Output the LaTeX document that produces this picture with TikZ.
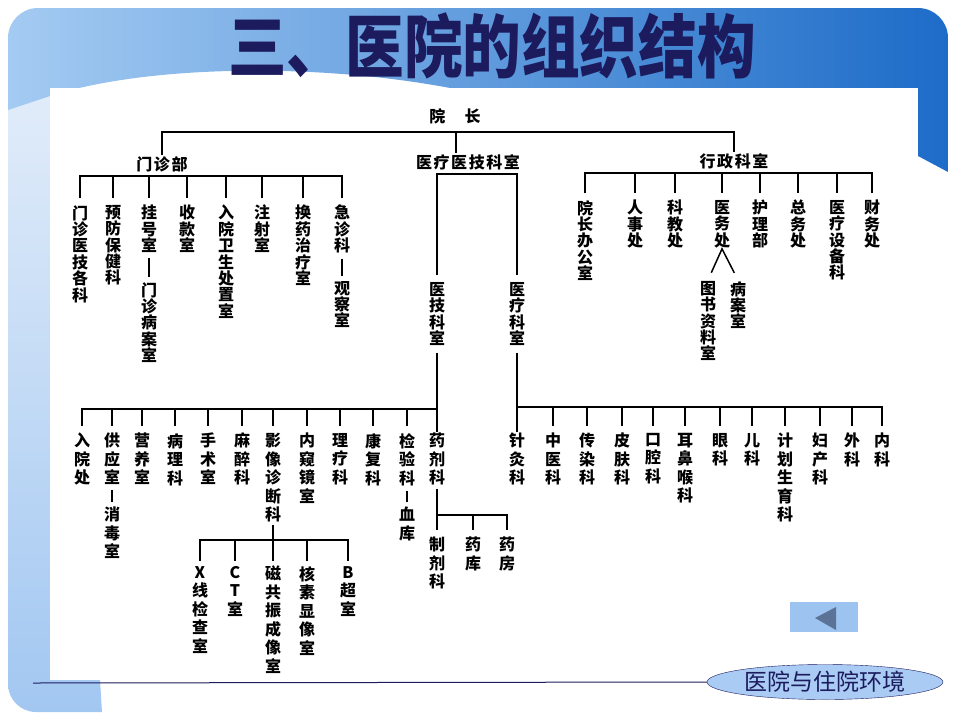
\documentclass[tikz,border=0pt]{standalone}
\usepackage{fontspec}
\setmainfont{Noto Sans CJK SC}
\newfontfamily\cjk{Noto Sans CJK SC}
\newfontfamily\hcjk[LetterSpace=10]{Noto Sans CJK SC}
\usetikzlibrary{shapes.geometric}

\definecolor{navy}{HTML}{1B1B5E}
\definecolor{bannerL}{HTML}{A4CBF2}
\definecolor{bannerR}{HTML}{1D6CC8}
\definecolor{stripT}{HTML}{E4EEFA}
\definecolor{stripB}{HTML}{A2C7F1}
\definecolor{btnblue}{HTML}{9DC3F0}
\definecolor{btnarrow}{HTML}{5B7396}
\definecolor{ovalfill}{HTML}{AACBF3}

\tikzset{
  link/.style={draw=black, line width=1.5pt},
  bar/.style={link, shorten <=6pt, shorten >=6pt},
  drop/.style={link, shorten >=6pt},
  htxt/.style={font=\hcjk\bfseries\fontsize{16}{18}\selectfont, inner sep=1pt},
  vtop/.style={font=\cjk\bfseries\fontsize{16}{16.4}\selectfont, align=center, anchor=north, inner sep=1pt},
  vbot/.style={vtop, font=\cjk\bfseries\fontsize{16}{18.5}\selectfont},
}

\begin{document}
\begin{tikzpicture}[x=1pt,y=-1pt]
\useasboundingbox (0,0) rectangle (960,720);

% slide background
\shade[top color=stripT, bottom color=stripB] (8,60) -- (8,684)
  arc[start angle=180,end angle=90,radius=28] -- (102,712) -- (62,60) -- cycle;
\shade[left color=bannerL, right color=bannerR] (8,110) -- (8,38)
  arc[start angle=180,end angle=270,radius=30] -- (918,8)
  arc[start angle=270,end angle=360,radius=30] -- (948,172) -- (918,156)
  -- (918,95) -- (470,92) .. controls (330,62) and (150,64) .. (50,96) -- cycle;
\fill[white] (50,88) rectangle (918,680);

\node[font=\cjk\bfseries\fontsize{69}{69}\selectfont, text=navy, xscale=0.85] (title) at (492,46) {三、医院的组织结构};

% top level
\node[htxt] (yz) at (455,116) {院\hspace{1.2em}长};
\node[htxt] (mz) at (162,164) {门诊部};
\node[htxt] (yl) at (468,162) {医疗医技科室};
\node[htxt] (xz) at (734,161) {行政科室};
\coordinate (tb) at (456,132);
\draw[link] (mz.north) |- (tb) -| (xz.north);
\draw[link] (tb) -- (tb |- yl.north);

% outpatient
\node[vtop] (m1) at (80,204) {门\\诊\\医\\技\\各\\科};
\node[vtop] (m2) at (113,204) {预\\防\\保\\健\\科};
\node[vtop] (m3) at (149,204) {挂\\号\\室};
\node[vtop] (m3b) at (149,281) {门\\诊\\病\\案\\室};
\node[vtop] (m4) at (187,204) {收\\款\\室};
\node[vtop] (m5) at (226,204) {入\\院\\卫\\生\\处\\置\\室};
\node[vtop] (m6) at (262,204) {注\\射\\室};
\node[vtop] (m7) at (303,204) {换\\药\\治\\疗\\室};
\node[vtop] (m8) at (342,204) {急\\诊\\科};
\node[vtop] (m8b) at (342,280) {观\\察\\室};
\coordinate (mzb) at (210,176);
\draw[bar] (m1.north) -- (m1.north |- mzb) -- (m8.north |- mzb) -- (m8.north);
\foreach \i in {2,...,7} \draw[drop] (m\i.north |- mzb) -- (m\i.north);
\draw[link, shorten <=4pt, shorten >=4pt] (m3.south) -- (m3b.north);
\draw[link, shorten <=4pt, shorten >=4pt] (m8.south) -- (m8b.north);

% administration
\node[vtop] (x1) at (585,199) {院\\长\\办\\公\\室};
\node[vtop] (x2) at (635,199) {人\\事\\处};
\node[vtop] (x3) at (675,199) {科\\教\\处};
\node[vtop] (x4) at (722,199) {医\\务\\处};
\node[vtop] (x5) at (760,199) {护\\理\\部};
\node[vtop] (x6) at (798,199) {总\\务\\处};
\node[vtop] (x7) at (837,199) {医\\疗\\设\\备\\科};
\node[vtop] (x8) at (872,199) {财\\务\\处};
\node[vtop] (x4a) at (708,280) {图\\书\\资\\料\\室};
\node[vtop] (x4b) at (738,280) {病\\案\\室};
\coordinate (xzb) at (730,173);
\draw[bar] (x1.north) -- (x1.north |- xzb) -- (x8.north |- xzb) -- (x8.north);
\foreach \i in {2,...,7} \draw[drop] (x\i.north |- xzb) -- (x\i.north);
\draw[link, shorten <=8pt, shorten >=8pt] (x4a.north) -- (x4.south) -- (x4b.north);

% medical and technical
\node[vtop] (yj) at (437,281) {医\\技\\科\\室};
\node[vtop] (yk) at (517,281) {医\\疗\\科\\室};
\coordinate (ylb) at (476,174);
\draw[bar] (yj.north) -- (yj.north |- ylb) -- (yk.north |- ylb) -- (yk.north);

% technical departments
\node[vbot] (b1) at (82,432) {入\\院\\处};
\node[vbot] (b2) at (112,432) {供\\应\\室};
\node[vbot] (b2a) at (112,506) {消\\毒\\室};
\node[vbot] (b3) at (142,432) {营\\养\\室};
\node[vbot] (b4) at (175,432) {病\\理\\科};
\node[vbot] (b5) at (208,432) {手\\术\\室};
\node[vbot] (b6) at (242,432) {麻\\醉\\科};
\node[vbot] (b7) at (273,432) {影\\像\\诊\\断\\科};
\node[vbot] (b8) at (307,432) {内\\窥\\镜\\室};
\node[vbot] (b9) at (340,432) {理\\疗\\科};
\node[vbot] (b10) at (373,432) {康\\复\\科};
\node[vbot] (b11) at (407,432) {检\\验\\科};
\node[vbot] (b11a) at (407,506) {血\\库};
\node[vbot] (b12) at (437,432) {药\\剂\\科};
\coordinate (lb) at (260,409);
\draw[link, shorten <=6pt] (yj.south) -- (b12.north);
\draw[drop] (b12.north |- lb) -- (b1.north |- lb) -- (b1.north);
\foreach \i in {2,...,11} \draw[drop] (b\i.north |- lb) -- (b\i.north);
\draw[link, shorten <=4pt, shorten >=4pt] (b2.south) -- (b2a.north);
\draw[link, shorten <=4pt, shorten >=4pt] (b11.south) -- (b11a.north);

% imaging
\node[vbot] (s1) at (200,565) {X\\线\\检\\查\\室};
\node[vbot] (s2) at (235,565) {C\\T\\室};
\node[vbot] (s3) at (273,565) {磁\\共\\振\\成\\像\\室};
\node[vbot] (s4) at (307,565) {核\\素\\显\\像\\室};
\node[vbot] (s5) at (348,565) {B\\超\\室};
\coordinate (sb) at (273,540);
\draw[link, shorten <=2pt, shorten >=4pt] (b7.south) -- (s3.north);
\draw[link, shorten <=4pt, shorten >=4pt] (s1.north) -- (s1.north |- sb) -- (s5.north |- sb) -- (s5.north);
\foreach \i in {2,4} \draw[link, shorten >=4pt] (s\i.north |- sb) -- (s\i.north);

% pharmacy
\node[vbot] (p1) at (437,536) {制\\剂\\科};
\node[vbot] (p2) at (473,536) {药\\库};
\node[vbot] (p3) at (507,536) {药\\房};
\coordinate (pb) at (470,515);
\draw[link, shorten <=2pt, shorten >=6pt] (b12.south) -- (p1.north);
\draw[drop] (p1.north |- pb) -- (p3.north |- pb) -- (p3.north);
\draw[drop] (p2.north |- pb) -- (p2.north);

% clinical departments
\node[vbot] (r1) at (517,432) {针\\灸\\科};
\node[vbot] (r2) at (553,432) {中\\医\\科};
\node[vbot] (r3) at (587,432) {传\\染\\科};
\node[vbot] (r4) at (622,432) {皮\\肤\\科};
\node[vbot] (r5) at (653,432) {口\\腔\\科};
\node[vbot] (r6) at (685,432) {耳\\鼻\\喉\\科};
\node[vbot] (r7) at (720,432) {眼\\科};
\node[vbot] (r8) at (752,432) {儿\\科};
\node[vbot] (r9) at (785,432) {计\\划\\生\\育\\科};
\node[vbot] (r10) at (820,432) {妇\\产\\科};
\node[vbot] (r11) at (852,432) {外\\科};
\node[vbot] (r12) at (882,432) {内\\科};
\coordinate (rb) at (700,407);
\draw[link, shorten <=6pt] (yk.south) -- (r1.north);
\draw[drop] (r1.north |- rb) -- (r12.north |- rb) -- (r12.north);
\foreach \i in {2,...,11} \draw[drop] (r\i.north |- rb) -- (r\i.north);

% footer
\node[fill=btnblue, minimum width=68, minimum height=30, inner sep=0] (back) at (824,617) {};
\fill[btnarrow] (815,618) -- (836,607) -- (836,630) -- cycle;
\node[ellipse, draw=navy, fill=ovalfill, minimum width=236, minimum height=35, inner sep=0,
  font=\cjk\fontsize{23}{23}\selectfont, text=navy] (tag) at (825,682) {医院与住院环境};
\coordinate (fl) at (33,683);
\draw[navy, line width=1pt] (fl) -- (tag.west);
\end{tikzpicture}
\end{document}
